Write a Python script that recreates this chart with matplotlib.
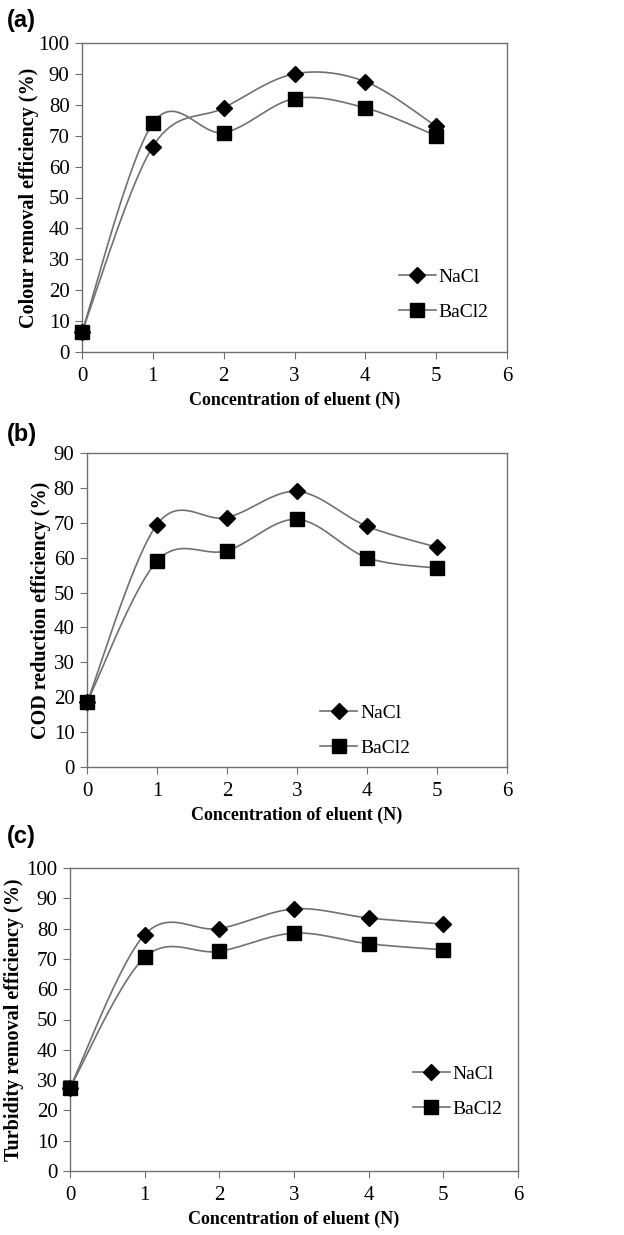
import numpy as np
import matplotlib
matplotlib.use("Agg")
import matplotlib.pyplot as plt

conc = [0, 1, 2, 3, 4, 5]

colour_nacl = [6.5, 66.5, 79, 90, 87.5, 73]
colour_bacl2 = [6.5, 74, 71, 82, 79, 70]

cod_nacl = [18.5, 69.5, 71.5, 79, 69, 63]
cod_bacl2 = [18.5, 59, 62, 71, 60, 57]

turb_nacl = [27.5, 78, 80, 86.5, 83.5, 81.5]
turb_bacl2 = [27.5, 70.5, 72.5, 78.5, 75, 73]

W, H = 624, 1235
plt.rcParams['font.family'] = ['Liberation Serif', 'DejaVu Serif']

grey = '#707070'


def smooth(x, y, n=40):
    # excel-like smoothed line: bezier through the points
    p = np.column_stack([x, y]).astype(float)
    pts = np.vstack([p[0], p, p[-1]])
    out = []
    t = np.linspace(0, 1, n)[:, None]
    for i in range(1, len(pts) - 2):
        p0, p1 = pts[i], pts[i + 1]
        c1 = p0 + (pts[i + 1] - pts[i - 1]) / 6
        c2 = p1 - (pts[i + 2] - pts[i]) / 6
        seg = ((1 - t) ** 3) * p0 + 3 * ((1 - t) ** 2) * t * c1 + 3 * (1 - t) * t ** 2 * c2 + t ** 3 * p1
        out.append(seg)
    s = np.vstack(out)
    return s[:, 0], s[:, 1]


fig = plt.figure(figsize=(W / 100, H / 100), dpi=100)

panels = [
    # left, top, right, bottom (px), ylabel, ymax, series, tag, tag_y, ylabel x, legend anchor
    (82, 43, 507, 352, 'Colour removal efficiency (%)', 100, colour_nacl, colour_bacl2, '(a)', 21, -0.1, (0.745, 0.27)),
    (87, 453, 507, 767, 'COD reduction efficiency (%)', 90, cod_nacl, cod_bacl2, '(b)', 435, -0.086, (0.555, 0.2)),
    (70, 868, 518, 1171, 'Turbidity removal efficiency (%)', 100, turb_nacl, turb_bacl2, '(c)', 837, -0.103, (0.765, 0.35)),
]

for l, t, r, b, ylab, ymax, nacl, bacl2, tag, tag_y, ylx, leg in panels:
    ax = fig.add_axes([l / W, 1 - b / H, (r - l) / W, (b - t) / H])
    xs, ys = smooth(conc, nacl)
    ax.plot(xs, ys, color=grey, lw=1.2, zorder=2)
    xs, ys = smooth(conc, bacl2)
    ax.plot(xs, ys, color=grey, lw=1.2, zorder=2)
    ax.plot(conc, nacl, ls='none', marker='D', ms=8, color='black', zorder=3, clip_on=False)
    ax.plot(conc, bacl2, ls='none', marker='s', ms=9.5, color='black', zorder=3, clip_on=False)

    # legend handles
    h1, = ax.plot([], [], color=grey, lw=1.2, marker='D', ms=8, mfc='black', mec='black')
    h2, = ax.plot([], [], color=grey, lw=1.2, marker='s', ms=9.5, mfc='black', mec='black')
    ax.legend([h1, h2], ['NaCl', 'BaCl2'], loc='upper left', bbox_to_anchor=leg,
              frameon=False, fontsize=14, handlelength=1.9, handletextpad=0.15,
              labelspacing=0.9, borderpad=0, borderaxespad=0)

    ax.set_xlim(0, 6)
    ax.set_ylim(0, ymax)
    ax.set_xticks(range(0, 7))
    ax.set_yticks(range(0, ymax + 1, 10))
    for s in ax.spines.values():
        s.set_color(grey)
        s.set_linewidth(1.0)
    ax.tick_params(direction='out', length=5, color=grey, labelsize=15, pad=4)
    ax.tick_params(axis='x', pad=6)
    ax.set_xlabel('Concentration of eluent (N)', fontsize=13, fontweight='bold', labelpad=4)
    ax.set_ylabel(ylab, fontsize=14.5, fontweight='bold')
    ax.yaxis.set_label_coords(ylx, 0.5)

    fig.text(7 / W, 1 - tag_y / H, tag, fontsize=17, fontweight='bold',
             family=['Liberation Sans', 'DejaVu Sans'], va='center', ha='left')

fig.savefig('out.png', dpi=100)
